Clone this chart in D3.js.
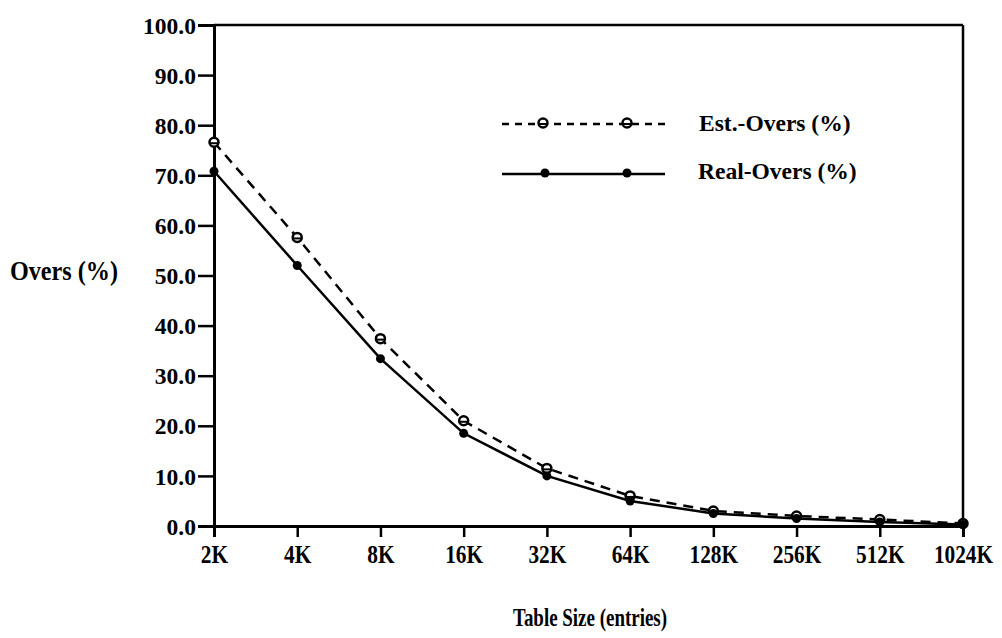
<!DOCTYPE html>
<html>
<head>
<script src="https://cdnjs.cloudflare.com/ajax/libs/d3/7.8.5/d3.min.js"></script>
<style>
  body { margin: 0; background: #fff; }
  text { font-family: "Liberation Serif", "DejaVu Serif", serif; font-weight: bold; fill: #000; }
</style>
</head>
<body>
<svg id="chart" width="1002" height="638"></svg>
<script>
// table sizes and the two series (percent)
var sizes = ["2K", "4K", "8K", "16K", "32K", "64K", "128K", "256K", "512K", "1024K"];
var estOvers = [76.6, 57.6, 37.4, 21.0, 11.5, 6.0, 3.0, 2.0, 1.3, 0.5];
var realOvers = [70.8, 52.0, 33.4, 18.5, 10.0, 5.0, 2.5, 1.5, 0.8, 0.3];
var yTicks = [0, 10, 20, 30, 40, 50, 60, 70, 80, 90, 100];

var svg = d3.select("#chart");
var plotLeft = 214, plotRight = 963, plotTop = 25, plotBottom = 526;

var x = d3.scalePoint().domain(sizes).range([plotLeft, plotRight]);
var y = d3.scaleLinear().domain([0, 100]).range([plotBottom, plotTop]);

// squeeze a text horizontally, the scan's type is narrow
function squeeze(sel, f) {
  sel.each(function () {
    var w = this.getComputedTextLength();
    d3.select(this).attr("textLength", w * f).attr("lengthAdjust", "spacingAndGlyphs");
  });
}

// frame: top and right lines
svg.append("line").attr("x1", plotLeft).attr("x2", plotRight).attr("y1", plotTop).attr("y2", plotTop)
  .attr("stroke", "#000").attr("stroke-width", 2.5);
svg.append("line").attr("x1", plotRight).attr("x2", plotRight).attr("y1", plotTop).attr("y2", plotBottom)
  .attr("stroke", "#000").attr("stroke-width", 2.5);

var yAxis = svg.append("g").attr("transform", "translate(" + plotLeft + ",0)")
  .call(d3.axisLeft(y).tickValues(yTicks).tickSize(16).tickPadding(2).tickFormat(d3.format(".1f")));
var xAxis = svg.append("g").attr("transform", "translate(0," + plotBottom + ")")
  .call(d3.axisBottom(x).tickSize(11).tickPadding(6));

[yAxis, xAxis].forEach(function (g) {
  g.select(".domain").attr("stroke", "#000").attr("stroke-width", 3);
  g.selectAll(".tick line").attr("stroke", "#000").attr("stroke-width", 2.5);
});
yAxis.selectAll("text").attr("font-size", 24).attr("dy", "0.34em");
xAxis.selectAll("text").attr("font-size", 26).attr("dy", "0.76em");
squeeze(yAxis.selectAll("text"), 0.98);
squeeze(xAxis.selectAll("text"), 0.82);

var line = d3.line().x(function (d, i) { return x(sizes[i]); }).y(function (d) { return y(d); });

svg.append("path").datum(estOvers).attr("d", line)
  .attr("fill", "none").attr("stroke", "#000").attr("stroke-width", 2.5)
  .attr("stroke-dasharray", "10,7");
svg.append("path").datum(realOvers).attr("d", line)
  .attr("fill", "none").attr("stroke", "#000").attr("stroke-width", 2.5);

function estMark(g, cx, cy) {
  g.append("circle").attr("cx", cx).attr("cy", cy).attr("r", 4.5)
    .attr("fill", "#fff").attr("stroke", "#000").attr("stroke-width", 2.5);
  g.append("line").attr("x1", cx - 5).attr("x2", cx + 5).attr("y1", cy + 1).attr("y2", cy + 1)
    .attr("stroke", "#000").attr("stroke-width", 2);
}

var estG = svg.append("g");
estOvers.forEach(function (d, i) { estMark(estG, x(sizes[i]), y(d)); });
svg.selectAll("circle.real").data(realOvers).enter().append("circle")
  .attr("class", "real")
  .attr("cx", function (d, i) { return x(sizes[i]); })
  .attr("cy", function (d) { return y(d); })
  .attr("r", 4.5).attr("fill", "#000");

// legend
var leg = svg.append("g");
leg.append("line").attr("x1", 502).attr("x2", 665).attr("y1", 124).attr("y2", 124)
  .attr("stroke", "#000").attr("stroke-width", 2.5).attr("stroke-dasharray", "7,6");
[543, 627].forEach(function (cx) { estMark(leg, cx, 123); });
leg.append("text").attr("x", 699).attr("y", 131).attr("font-size", 24).text("Est.-Overs (%)");

leg.append("line").attr("x1", 502).attr("x2", 665).attr("y1", 174).attr("y2", 174)
  .attr("stroke", "#000").attr("stroke-width", 2.5);
[545, 627].forEach(function (cx) {
  leg.append("circle").attr("cx", cx).attr("cy", 173).attr("r", 4.5).attr("fill", "#000");
});
leg.append("text").attr("x", 698).attr("y", 179).attr("font-size", 24).text("Real-Overs (%)");
squeeze(leg.selectAll("text"), 0.98);

// axis titles
svg.append("text").attr("x", 10).attr("y", 280).attr("font-size", 27)
  .attr("textLength", 108).attr("lengthAdjust", "spacingAndGlyphs").text("Overs (%)");
svg.append("text").attr("x", 513).attr("y", 626).attr("font-size", 26)
  .attr("textLength", 154).attr("lengthAdjust", "spacingAndGlyphs").text("Table Size (entries)");
</script>
</body>
</html>
